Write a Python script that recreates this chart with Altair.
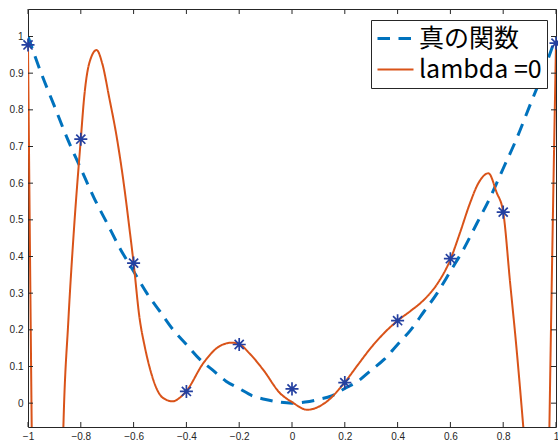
import altair as alt
import pandas as pd

# ---- data ----
true_x = [-1.0, -0.95, -0.9, -0.85, -0.8, -0.75, -0.7, -0.65, -0.6, -0.55, -0.5,
          -0.45, -0.4, -0.35, -0.3, -0.25, -0.2, -0.15, -0.1, -0.05, 0.0,
          0.05, 0.1, 0.15, 0.2, 0.25, 0.3, 0.35, 0.4, 0.45, 0.5,
          0.55, 0.6, 0.65, 0.7, 0.75, 0.8, 0.85, 0.9, 0.95, 1.0]
true_y = [1.0, 0.90, 0.81, 0.72, 0.64, 0.56, 0.49, 0.42, 0.36, 0.30, 0.25,
          0.20, 0.16, 0.12, 0.09, 0.06, 0.04, 0.02, 0.01, 0.003, 0.0,
          0.003, 0.01, 0.02, 0.04, 0.06, 0.09, 0.12, 0.16, 0.20, 0.25,
          0.30, 0.36, 0.42, 0.49, 0.56, 0.64, 0.72, 0.81, 0.90, 1.0]

fit_x = [-1.0, -0.99, -0.984, -0.975, -0.95, -0.92, -0.89, -0.875, -0.866, -0.847,
         -0.826, -0.8, -0.787, -0.768, -0.74, -0.719, -0.692, -0.664, -0.636, -0.616,
         -0.6, -0.578, -0.558, -0.538, -0.513, -0.49, -0.452, -0.42, -0.4, -0.336,
         -0.273, -0.228, -0.2, -0.16, -0.109, -0.045, 0.0, 0.058, 0.131, 0.2,
         0.25, 0.3, 0.35, 0.4, 0.45, 0.5, 0.55, 0.6, 0.636, 0.674,
         0.706, 0.744, 0.775, 0.8, 0.826, 0.851, 0.876, 0.9, 0.93, 0.955,
         0.965, 0.975, 0.988, 1.0]
fit_y = [0.975, 0.23, -0.2, -0.7, -1.8, -2.2, -1.2, -0.35, -0.065, 0.227,
         0.473, 0.72, 0.836, 0.927, 0.963, 0.927, 0.832, 0.726, 0.592, 0.478,
         0.382, 0.235, 0.155, 0.094, 0.040, 0.015, 0.005, 0.018, 0.033, 0.109,
         0.156, 0.165, 0.161, 0.135, 0.091, 0.027, 0.003, -0.018, 0.004, 0.057,
         0.105, 0.152, 0.192, 0.225, 0.252, 0.282, 0.325, 0.392, 0.464, 0.545,
         0.600, 0.627, 0.575, 0.521, 0.33, 0.145, -0.064, -0.28, -0.6, -0.8,
         -0.55, -0.065, 0.5, 0.98]

obs_x = [-1.0, -0.8, -0.6, -0.4, -0.2, 0.0, 0.2, 0.4, 0.6, 0.8, 1.0]
obs_y = [0.977, 0.72, 0.382, 0.032, 0.16, 0.039, 0.056, 0.225, 0.394, 0.521, 0.982]

x_ticks = [-1.0, -0.8, -0.6, -0.4, -0.2, 0.0, 0.2, 0.4, 0.6, 0.8, 1.0]
y_ticks = [0.0, 0.1, 0.2, 0.3, 0.4, 0.5, 0.6, 0.7, 0.8, 0.9, 1.0]

series_names = ["真の関数", "lambda =0"]

# ---- layout / style ----
W, H = 528, 418
TL = 5
AX = "#262626"

lines_df = pd.DataFrame(
    {"x": true_x + fit_x,
     "y": true_y + fit_y,
     "s": [series_names[0]] * len(true_x) + [series_names[1]] * len(fit_x)}
)
obs_df = pd.DataFrame({"x": obs_x, "y": obs_y})
xt_df = pd.DataFrame({"t": x_ticks})
yt_df = pd.DataFrame({"t": y_ticks})

xscale = alt.Scale(domain=[-1, 1], nice=False, zero=False)
yscale = alt.Scale(domain=[-0.065, 1.075], nice=False, zero=False)

xaxis = alt.Axis(values=x_ticks, format="~g", title=None, grid=False, domain=False,
                 ticks=False, tickSize=0, labelPadding=4, labelFontSize=10,
                 labelFont="Liberation Sans", labelColor=AX, labelFlush=False)
yaxis = alt.Axis(values=y_ticks, format="~g", title=None, grid=False, domain=False,
                 ticks=False, tickSize=0, labelPadding=5, labelFontSize=10,
                 labelFont="Liberation Sans", labelColor=AX, labelFlush=False)

lines = alt.Chart(lines_df).mark_line(clip=True, interpolate="monotone").encode(
    x=alt.X("x:Q", scale=xscale, axis=xaxis),
    y=alt.Y("y:Q", scale=yscale, axis=yaxis),
    color=alt.Color("s:N", sort=series_names,
                    scale=alt.Scale(domain=series_names, range=["#0072BD", "#D95319"]),
                    legend=alt.Legend(title=None, orient="none", legendX=343, legendY=11,
                                      direction="vertical", fillColor="white",
                                      strokeColor=AX, padding=5,
                                      labelFont="Noto Sans CJK JP", labelFontSize=25,
                                      labelColor="black", labelLimit=400,
                                      symbolType="stroke", symbolSize=1296,
                                      symbolStrokeWidth=2.5, labelOffset=4,
                                      clipHeight=27, rowPadding=4)),
    strokeDash=alt.StrokeDash("s:N", sort=series_names,
                              scale=alt.Scale(domain=series_names, range=[[12.5, 8.5], [1, 0]]),
                              legend=None),
    strokeWidth=alt.StrokeWidth("s:N", scale=alt.Scale(domain=series_names, range=[3, 2]),
                                legend=None),
)

star_path = "M-1,0L1,0M0,-1L0,1M-0.7,-0.7L0.7,0.7M-0.7,0.7L0.7,-0.7"
stars = alt.Chart(obs_df).mark_point(shape=star_path, filled=False, size=170,
                                     color="#2440A0", strokeWidth=1.7, opacity=1).encode(
    x=alt.X("x:Q", scale=xscale),
    y=alt.Y("y:Q", scale=yscale),
)

tick_style = dict(color=AX, strokeWidth=1)
bt = alt.Chart(xt_df).mark_rule(**tick_style).encode(
    x=alt.X("t:Q", scale=xscale), y=alt.value(H), y2=alt.value(H - TL))
tt = alt.Chart(xt_df).mark_rule(**tick_style).encode(
    x=alt.X("t:Q", scale=xscale), y=alt.value(0), y2=alt.value(TL))
lt = alt.Chart(yt_df).mark_rule(**tick_style).encode(
    y=alt.Y("t:Q", scale=yscale), x=alt.value(0), x2=alt.value(TL))
rt = alt.Chart(yt_df).mark_rule(**tick_style).encode(
    y=alt.Y("t:Q", scale=yscale), x=alt.value(W - TL), x2=alt.value(W))

chart = alt.layer(lines, stars, bt, tt, lt, rt).properties(
    width=W, height=H,
    autosize=alt.AutoSizeParams(type="none"),
    padding={"left": 28, "top": 9, "right": 2, "bottom": 13},
    background="white",
).configure_view(stroke=AX, strokeWidth=1)

chart.save("out.html", embed_options={"renderer": "svg", "actions": False})
